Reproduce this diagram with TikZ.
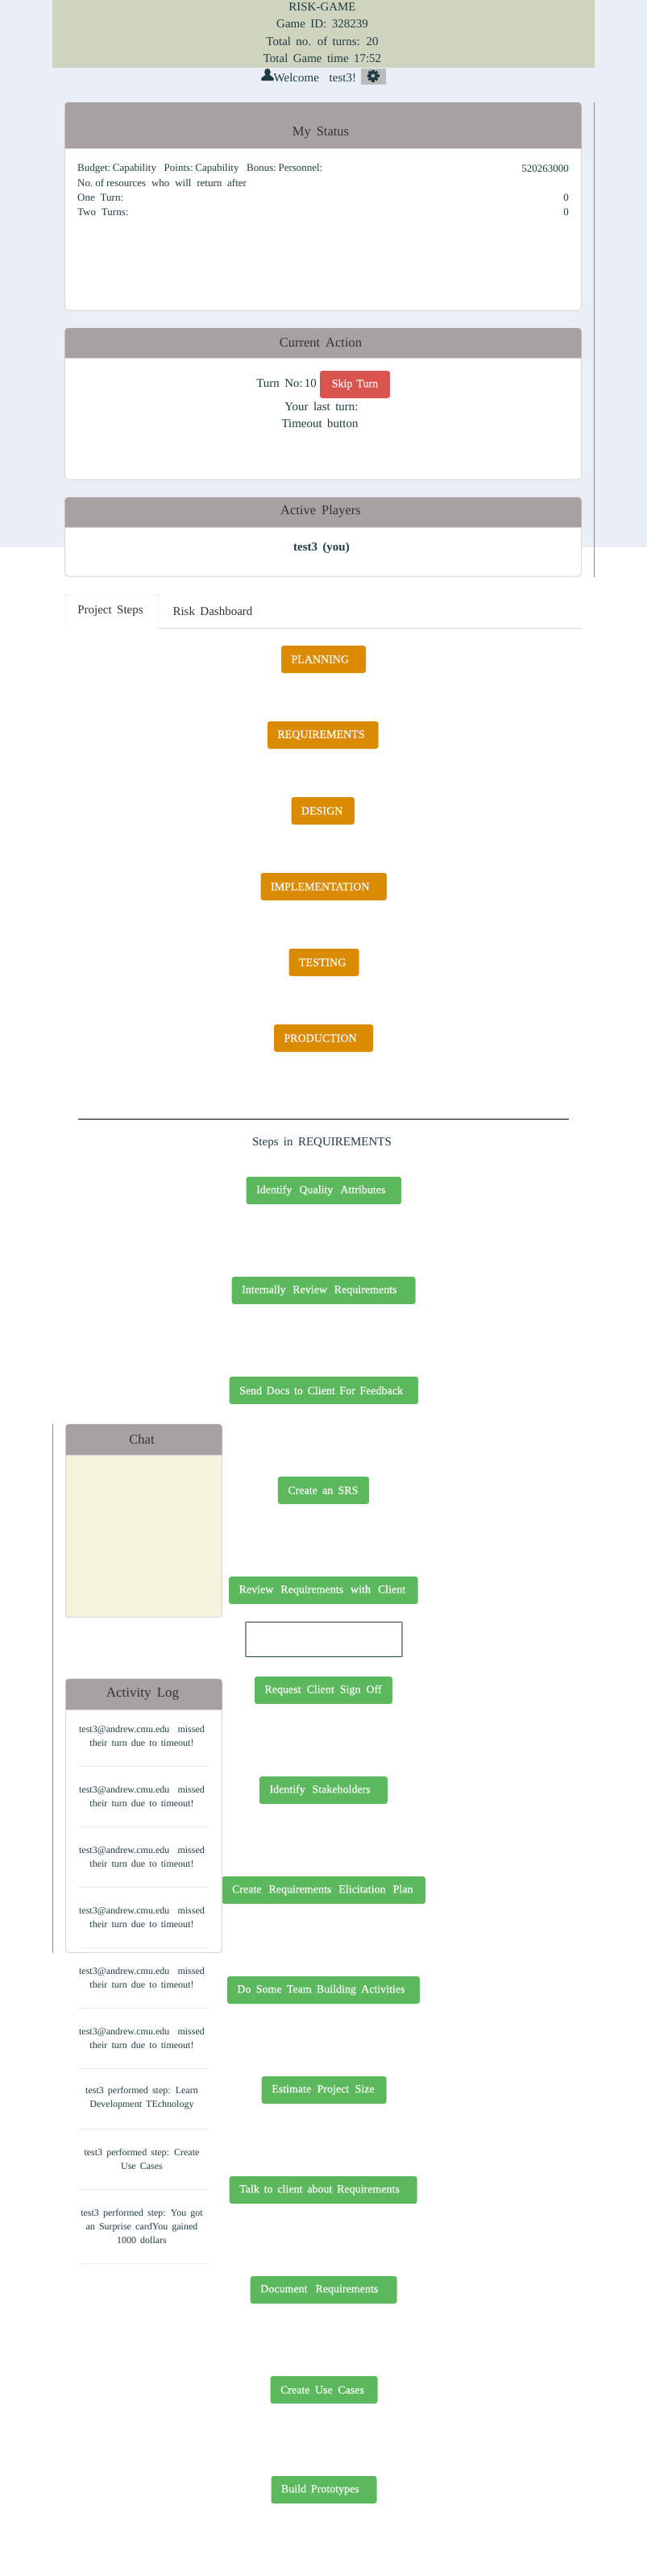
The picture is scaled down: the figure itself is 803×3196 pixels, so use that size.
\documentclass[tikz,border=0pt]{standalone}
\usepackage{fontspec}
\setmainfont{Liberation Serif}[WordSpace=1.7]
\newfontfamily\bodyfont{Liberation Serif}[WordSpace=2.1]
\newfontfamily\btnfont{Liberation Serif}[FakeBold=0.2]
\usepackage{tikz}

\definecolor{pagetint}{HTML}{E9EEF7}
\definecolor{bandfill}{HTML}{CFD4BE}
\definecolor{headfill}{HTML}{A7A1A1}
\definecolor{panelline}{HTML}{D8D8D8}
\definecolor{inkteal}{HTML}{1F3B42}
\definecolor{inkhead}{HTML}{333333}
\definecolor{phasefill}{HTML}{DB8B00}
\definecolor{stepfill}{HTML}{5CB85C}
\definecolor{skipfill}{HTML}{D9534F}
\definecolor{chatfill}{HTML}{F4F4DC}
\definecolor{cogfill}{HTML}{BBBBBB}

\tikzset{
	bandtext/.style={font=\fontsize{15}{18}\selectfont, text=inkteal},
	bodytext/.style={font=\bodyfont\fontsize{13}{18}\selectfont, text=inkteal},
	logtext/.style={font=\fontsize{12}{17}\selectfont, text=inkteal, align=center},
	headtext/.style={font=\fontsize{16.5}{18}\selectfont, text=inkhead},
	tabtext/.style={font=\fontsize{15}{18}\selectfont, text=inkhead},
	panelbody/.style={fill=white, draw=panelline, line width=1pt, rounded corners=4pt},
	panelhead/.style={fill=headfill, rounded corners=4pt},
	btn/.style={rounded corners=3pt, text=white, font=\btnfont\fontsize{14}{16}\selectfont, minimum height=34pt, inner ysep=0pt, inner xsep=12.5pt, align=flush left},
	phasebtn/.style={btn, fill=phasefill, text width=#1},
	stepbtn/.style n args={2}{btn, fill=stepfill, text width=#1, execute at begin node={\spaceskip=#2\relax}},
	siderule/.style={draw=gray!90, line width=0.8pt},
	logrule/.style={draw=black!7, line width=1pt}
}

\begin{document}
\begin{tikzpicture}[x=1pt, y=-1pt]
	\useasboundingbox (0, 0) rectangle (803, 3196);
	\fill[white] (0, 0) rectangle (803, 3196);
	\fill[pagetint] (0, 0) rectangle (803, 679);
	\fill[bandfill] (65, 0) rectangle (738, 84);
	\node[bandtext] (title) at (400, 9) {RISK-GAME};
	\node[bandtext] (gameid) at (400, 30) {Game ID: 328239};
	\node[bandtext] (turns) at (400, 51) {Total no. of turns: 20};
	\node[bandtext] (clock) at (400, 72) {Total Game time 17:52};

	\fill[inkteal] (332, 89.5) ellipse (3.8pt and 4.6pt);
	\fill[inkteal, rounded corners=1pt] (324, 100) -- (324.5, 96.5) -- (329.5, 93) -- (334.5, 93) -- (339.5, 96.5) -- (340, 100) -- cycle;
	\node[bandtext, anchor=west, inner sep=0pt] (welcome) at (339.5, 96) {Welcome \ test3!};
	\node[fill=cogfill, minimum width=31pt, minimum height=20pt, inner sep=0pt] (cog) at (463.5, 95) {};
	\foreach \a in {0, 45, 90, 135} {
		\fill[inkteal, rotate around={\a:(463, 94)}] (461.3, 86.5) rectangle (464.7, 101.5);
	}
	\fill[inkteal] (463, 94) circle (5.5pt);
	\fill[cogfill] (463, 94) circle (2.3pt);

	\draw[siderule] (737.5, 127) -- (737.5, 716);
	\draw[siderule] (65.5, 1767) -- (65.5, 2423);

	\draw[panelbody] (80.5, 127) rectangle (721.5, 385);
	\fill[panelhead] (80.5, 184) -- (80.5, 127) -- (721.5, 127) -- (721.5, 184);
	\draw[panelline] (80.5, 184) -- (721.5, 184);
	\node[headtext] (statushead) at (398, 165) {My Status};
	\node[bodytext, anchor=west, inner sep=0pt] (budget) at (96, 209) {Budget:\hspace{2.5pt}Capability\hspace{9.7pt}Points:\hspace{2.5pt}Capability\hspace{9.7pt}Bonus:\hspace{2.5pt}Personnel:};
	\node[bodytext, anchor=east, inner sep=0pt] (budgetval) at (706, 209) {520263000};
	\node[bodytext, anchor=west, inner sep=0pt] (resources) at (96, 227) {No.\hspace{3pt}of\hspace{3pt}resources who will return after};
	\node[bodytext, anchor=west, inner sep=0pt] (oneturn) at (96, 245) {One Turn:};
	\node[bodytext, anchor=east, inner sep=0pt] (oneval) at (706, 245) {0};
	\node[bodytext, anchor=west, inner sep=0pt] (twoturn) at (96, 263) {Two Turns:};
	\node[bodytext, anchor=east, inner sep=0pt] (twoval) at (706, 263) {0};

	\draw[panelbody] (80.5, 407) rectangle (721.5, 595);
	\fill[panelhead] (80.5, 444) -- (80.5, 407) -- (721.5, 407) -- (721.5, 444);
	\draw[panelline] (80.5, 444) -- (721.5, 444);
	\node[headtext] (actionhead) at (398, 425) {Current Action};
	\node[bandtext, anchor=east, inner sep=0pt] (turnno) at (393, 476) {Turn No:\hspace{2pt}10};
	\node[btn, fill=skipfill, minimum width=87pt, inner xsep=0pt, align=center] (skip) at (440.5, 477) {Skip\hspace{5pt}Turn};
	\node[bandtext] (lastturn) at (399, 504) {Your last turn:};
	\node[bandtext] (timeout) at (397, 525) {Timeout button};

	\draw[panelbody] (80.5, 617) rectangle (721.5, 715);
	\fill[panelhead] (80.5, 654) -- (80.5, 617) -- (721.5, 617) -- (721.5, 654);
	\draw[panelline] (80.5, 654) -- (721.5, 654);
	\node[headtext] (playershead) at (398, 635) {Active Players};
	\node[bandtext, font=\fontsize{15}{18}\selectfont\bfseries] (you) at (399, 680) {test3 (you)};

	\draw[panelline] (197, 779) -- (722, 779);
	\draw[panelline, rounded corners=4pt] (81, 779) -- (81, 737) -- (197, 737) -- (197, 779);
	\node[tabtext] (stepstab) at (137, 758) {Project Steps};
	\node[tabtext] (risktab) at (264, 758) {Risk Dashboard};

	\node[phasebtn=80pt] (planning) at (401.5, 818) {PLANNING};
	\node[phasebtn=112.5pt] (requirements) at (400.75, 912) {REQUIREMENTS};
	\node[phasebtn=53.5pt] (design) at (400.75, 1006) {DESIGN};
	\node[phasebtn=131.5pt] (implementation) at (401.75, 1100) {IMPLEMENTATION};
	\node[phasebtn=62pt] (testing) at (402, 1194) {TESTING};
	\node[phasebtn=98pt] (production) at (401.5, 1288) {PRODUCTION};

	\draw[black, line width=1pt] (97, 1388) -- (706, 1388);
	\node[bandtext] (stepstitle) at (399.5, 1418) {Steps in REQUIREMENTS};

	\node[stepbtn={167.5pt}{9pt}] (quality) at (401.85, 1477) {Identify Quality Attributes};
	\node[stepbtn={203pt}{8.7pt}] (review) at (401.7, 1601) {Internally Review Requirements};
	\node[stepbtn={209.5pt}{5.6pt}] (senddocs) at (401.85, 1725) {Send Docs to Client For Feedback};
	\node[stepbtn={88pt}{6.2pt}] (srs) at (401.4, 1849) {Create an SRS};
	\node[stepbtn={209.5pt}{9pt}] (clientreview) at (401.35, 1973) {Review Requirements with Client};
	\draw[inkteal, line width=1pt] (305, 2012) -- (499, 2012);
	\draw[inkteal, line width=1pt] (305, 2055.5) -- (499, 2055.5);
	\draw[inkteal!55, line width=1.2pt] (305, 2012) -- (305, 2055.5);
	\draw[inkteal!55, line width=1.2pt] (499, 2012) -- (499, 2055.5);
	\node[stepbtn={146pt}{7pt}] (signoff) at (401.5, 2097) {Request Client Sign Off};
	\node[stepbtn={134pt}{8.7pt}] (stakeholders) at (401.5, 2221) {Identify Stakeholders};
	\node[stepbtn={227.5pt}{9pt}] (elicitation) at (401.75, 2345) {Create Requirements Elicitation Plan};
	\node[stepbtn={214pt}{6.2pt}] (teambuilding) at (401.5, 2469) {Do Some Team Building Activities};
	\node[stepbtn={130pt}{7.4pt}] (projectsize) at (402.2, 2593) {Estimate Project Size};
	\node[stepbtn={208pt}{5.8pt}] (talkclient) at (401.2, 2717) {Talk to client about Requirements};
	\node[stepbtn={157pt}{10pt}] (document) at (401.7, 2841) {Document Requirements};
	\node[stepbtn={108pt}{6.5pt}] (usecases) at (402, 2965) {Create Use Cases};
	\node[stepbtn={106pt}{5.8pt}] (prototypes) at (402, 3089) {Build Prototypes};

	\draw[panelbody, fill=chatfill] (81.5, 1767) rectangle (275.5, 2006.5);
	\fill[panelhead] (81.5, 1805) -- (81.5, 1767) -- (275.5, 1767) -- (275.5, 1805);
	\draw[panelline] (81.5, 1805) -- (275.5, 1805);
	\node[headtext] (chathead) at (176, 1786) {Chat};

	\draw[panelbody] (81.5, 2083) rectangle (275.5, 2422.5);
	\fill[panelhead] (81.5, 2121) -- (81.5, 2083) -- (275.5, 2083) -- (275.5, 2121);
	\draw[panelline] (81.5, 2121) -- (275.5, 2121);
	\node[headtext, font=\fontsize{17}{18}\selectfont] (loghead) at (177, 2102) {Activity Log};

	\foreach \i in {0,...,5} {
		\node[logtext] (missed\i) at (176, 2153.5 + 75*\i) {test3@andrew.cmu.edu \ missed\\their turn due to timeout!};
	}
	\node[logtext] (learntech) at (176, 2603.5) {test3 performed step: Learn\\Development TEchnology};
	\node[logtext] (usecase) at (176, 2678.5) {test3 performed step: Create\\Use Cases};
	\node[logtext] (surprise) at (176, 2762) {test3 performed step: You got\\an Surprise cardYou gained\\1000 dollars};
	\foreach \i in {0,...,7} {
		\draw[logrule] (97, 2191 + 75*\i) -- (260, 2191 + 75*\i);
	}
	\draw[logrule] (97, 2808) -- (260, 2808);
\end{tikzpicture}
\end{document}
